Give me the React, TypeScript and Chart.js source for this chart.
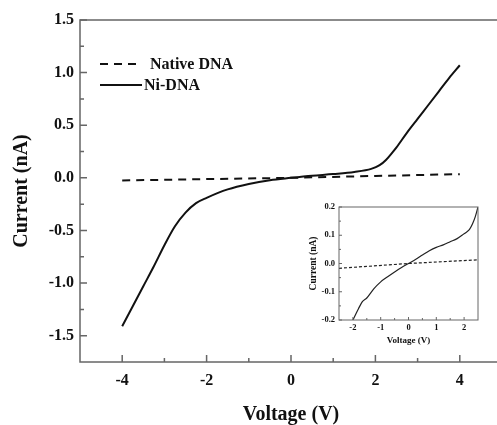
import React, { useEffect, useRef } from "react";
import { Chart, registerables } from "chart.js";

Chart.register(...registerables);

// ---------- data (main chart) ----------
const seriesNames = ["Native DNA", "Ni-DNA"];
const voltageTicks = [-4, -2, 0, 2, 4];
const voltageMinorTicks = [-3, -1, 1, 3];
const currentTicks = [-1.5, -1.0, -0.5, 0.0, 0.5, 1.0, 1.5];
const currentMinorTicks = [-1.25, -0.75, -0.25, 0.25, 0.75, 1.25];

const nativeVoltage = [-4, -2, 0, 2, 4];
const nativeCurrent = [-0.025, -0.012, 0.0, 0.018, 0.035];

const niVoltage = [-4, -3.75, -3.5, -3.25, -3, -2.75, -2.5, -2.25, -2, -1.5, -1, -0.5, 0, 0.5, 1, 1.5, 1.9, 2.1, 2.25, 2.4, 2.5, 2.75, 3, 3.25, 3.5, 3.75, 4];
const niCurrent = [-1.41, -1.22, -1.03, -0.84, -0.64, -0.46, -0.33, -0.24, -0.19, -0.11, -0.058, -0.022, 0.0, 0.02, 0.036, 0.056, 0.085, 0.12, 0.17, 0.24, 0.29, 0.43, 0.56, 0.69, 0.82, 0.95, 1.07];

// ---------- data (inset) ----------
const insetVoltageTicks = [-2, -1, 0, 1, 2];
const insetVoltageMinorTicks = [-1.5, -0.5, 0.5, 1.5];
const insetCurrentTicks = [-0.2, -0.1, 0.0, 0.1, 0.2];
const insetCurrentMinorTicks = [-0.15, -0.05, 0.05, 0.15];

const insetNativeVoltage = [-2.5, 0, 2.5];
const insetNativeCurrent = [-0.017, 0.0, 0.013];

const insetNiVoltage = [-2, -1.8, -1.66, -1.5, -1.25, -1, -0.75, -0.5, -0.25, 0, 0.25, 0.5, 0.75, 1, 1.25, 1.5, 1.75, 2, 2.1, 2.2, 2.3, 2.4, 2.5];
const insetNiCurrent = [-0.2, -0.16, -0.135, -0.122, -0.09, -0.065, -0.047, -0.03, -0.014, 0, 0.014, 0.03, 0.045, 0.057, 0.066, 0.077, 0.088, 0.105, 0.112, 0.122, 0.14, 0.165, 0.2];

const FONT = "'Liberation Serif', 'Times New Roman', serif";
const INK = "#111";
const FRAME = "#666";

const toPoints = (xs: number[], ys: number[]) => xs.map((x, i) => ({ x, y: ys[i] }));

function framePlugin(id: string, opt: any) {
  return {
    id,
    afterDraw(chart: any) {
      const { ctx, chartArea: a } = chart;
      const x = chart.scales.x;
      const y = chart.scales.y;
      ctx.save();
      ctx.strokeStyle = FRAME;
      ctx.lineWidth = opt.width;
      ctx.strokeRect(a.left, a.top, a.right - a.left, a.bottom - a.top);
      ctx.beginPath();
      const xt = (vals: number[], len: number) =>
        vals.forEach((v) => {
          const p = x.getPixelForValue(v);
          ctx.moveTo(p, a.bottom);
          ctx.lineTo(p, a.bottom - len);
        });
      const yt = (vals: number[], len: number) =>
        vals.forEach((v) => {
          const p = y.getPixelForValue(v);
          ctx.moveTo(a.left, p);
          ctx.lineTo(a.left + len, p);
        });
      xt(opt.xMajor, opt.major);
      xt(opt.xMinor, opt.minor);
      yt(opt.yMajor, opt.major);
      yt(opt.yMinor, opt.minor);
      ctx.stroke();
      ctx.restore();
    },
  };
}

const legendPlugin = {
  id: "customLegend",
  afterDraw(chart: any) {
    const { ctx, chartArea: a } = chart;
    ctx.save();
    ctx.strokeStyle = INK;
    ctx.lineWidth = 2;
    ctx.fillStyle = INK;
    ctx.font = `bold 16px ${FONT}`;
    ctx.textBaseline = "middle";
    ctx.setLineDash([8, 6]);
    ctx.beginPath();
    ctx.moveTo(a.left + 20, a.top + 44);
    ctx.lineTo(a.left + 62, a.top + 44);
    ctx.stroke();
    ctx.setLineDash([]);
    ctx.fillText(seriesNames[0], a.left + 70, a.top + 45);
    ctx.beginPath();
    ctx.moveTo(a.left + 20, a.top + 65);
    ctx.lineTo(a.left + 62, a.top + 65);
    ctx.stroke();
    ctx.fillText(seriesNames[1], a.left + 64, a.top + 66);
    ctx.restore();
  },
};

export default function App() {
  const mainRef = useRef<HTMLCanvasElement | null>(null);
  const insetRef = useRef<HTMLCanvasElement | null>(null);

  useEffect(() => {
    const main = new Chart(mainRef.current as HTMLCanvasElement, {
      type: "line",
      data: {
        datasets: [
          {
            label: seriesNames[0],
            data: toPoints(nativeVoltage, nativeCurrent),
            borderColor: INK,
            borderWidth: 2,
            borderDash: [8, 6],
            pointRadius: 0,
            fill: false,
          },
          {
            label: seriesNames[1],
            data: toPoints(niVoltage, niCurrent),
            borderColor: INK,
            borderWidth: 2,
            pointRadius: 0,
            cubicInterpolationMode: "monotone",
            fill: false,
          },
        ],
      },
      options: {
        responsive: false,
        animation: false,
        devicePixelRatio: 1,
        layout: { padding: { left: 0, top: 20, right: 18, bottom: 0 } },
        plugins: { legend: { display: false }, tooltip: { enabled: false } },
        scales: {
          x: {
            type: "linear",
            min: -5,
            max: 5,
            grid: { display: false, drawTicks: false },
            border: { display: false },
            afterBuildTicks: (s: any) => {
              s.ticks = voltageTicks.map((v) => ({ value: v }));
            },
            afterFit: (s: any) => {
              s.height = 63;
            },
            ticks: {
              autoSkip: false,
              maxRotation: 0,
              padding: 9,
              color: INK,
              font: { family: FONT, size: 16, weight: "bold" },
              callback: (v: any) => String(v),
            },
            title: {
              display: true,
              text: "Voltage (V)",
              color: INK,
              font: { family: FONT, size: 20, weight: "bold", lineHeight: 1 },
              padding: { top: 0, bottom: 0 },
            },
          },
          y: {
            type: "linear",
            min: -1.75,
            max: 1.5,
            grid: { display: false, drawTicks: false },
            border: { display: false },
            afterBuildTicks: (s: any) => {
              s.ticks = currentTicks.map((v) => ({ value: v }));
            },
            afterFit: (s: any) => {
              s.width = 80;
            },
            ticks: {
              autoSkip: false,
              padding: 6,
              color: INK,
              font: { family: FONT, size: 16, weight: "bold" },
              callback: (v: any) => Number(v).toFixed(1),
            },
            title: {
              display: true,
              text: "Current (nA)",
              color: INK,
              font: { family: FONT, size: 20, weight: "bold", lineHeight: 1.2 },
              padding: { top: 10, bottom: 0 },
            },
          },
        },
      } as any,
      plugins: [
        framePlugin("mainFrame", {
          width: 1.5,
          major: 7,
          minor: 4,
          xMajor: voltageTicks,
          xMinor: voltageMinorTicks,
          yMajor: currentTicks,
          yMinor: currentMinorTicks,
        }),
        legendPlugin,
      ],
    });

    const inset = new Chart(insetRef.current as HTMLCanvasElement, {
      type: "line",
      data: {
        datasets: [
          {
            label: seriesNames[0],
            data: toPoints(insetNativeVoltage, insetNativeCurrent),
            borderColor: "#222",
            borderWidth: 1.2,
            borderDash: [3, 2],
            pointRadius: 0,
            fill: false,
          },
          {
            label: seriesNames[1],
            data: toPoints(insetNiVoltage, insetNiCurrent),
            borderColor: "#222",
            borderWidth: 1.2,
            pointRadius: 0,
            cubicInterpolationMode: "monotone",
            fill: false,
          },
        ],
      },
      options: {
        responsive: false,
        animation: false,
        devicePixelRatio: 1,
        layout: { padding: { left: 0, top: 12, right: 17, bottom: 0 } },
        plugins: { legend: { display: false }, tooltip: { enabled: false } },
        scales: {
          x: {
            type: "linear",
            min: -2.5,
            max: 2.5,
            grid: { display: false, drawTicks: false },
            border: { display: false },
            afterBuildTicks: (s: any) => {
              s.ticks = insetVoltageTicks.map((v) => ({ value: v }));
            },
            afterFit: (s: any) => {
              s.height = 35;
            },
            ticks: {
              autoSkip: false,
              maxRotation: 0,
              padding: 3,
              color: INK,
              font: { family: FONT, size: 8.5, weight: "bold" },
              callback: (v: any) => String(v),
            },
            title: {
              display: true,
              text: "Voltage (V)",
              color: INK,
              font: { family: FONT, size: 9, weight: "bold", lineHeight: 1.2 },
              padding: { top: 0, bottom: 9 },
            },
          },
          y: {
            type: "linear",
            min: -0.2,
            max: 0.2,
            grid: { display: false, drawTicks: false },
            border: { display: false },
            afterBuildTicks: (s: any) => {
              s.ticks = insetCurrentTicks.map((v) => ({ value: v }));
            },
            afterFit: (s: any) => {
              s.width = 44;
            },
            ticks: {
              autoSkip: false,
              padding: 4,
              color: INK,
              font: { family: FONT, size: 8.5, weight: "bold" },
              callback: (v: any) => Number(v).toFixed(1),
            },
            title: {
              display: true,
              text: "Current (nA)",
              color: INK,
              font: { family: FONT, size: 9.5, weight: "bold", lineHeight: 1.2 },
              padding: { top: 13, bottom: 0 },
            },
          },
        },
      } as any,
      plugins: [
        framePlugin("insetFrame", {
          width: 1,
          major: 3,
          minor: 2,
          xMajor: insetVoltageTicks,
          xMinor: insetVoltageMinorTicks,
          yMajor: insetCurrentTicks,
          yMinor: insetCurrentMinorTicks,
        }),
      ],
    });

    return () => {
      main.destroy();
      inset.destroy();
    };
  }, []);

  return (
    <div
      style={{
        position: "fixed",
        left: 0,
        top: 0,
        width: 497,
        height: 425,
        overflow: "hidden",
        background: "#fff",
      }}
    >
      <canvas
        ref={mainRef}
        width={520}
        height={425}
        style={{ position: "absolute", left: 0, top: 0, display: "block" }}
      />
      <canvas
        ref={insetRef}
        width={200}
        height={160}
        style={{ position: "absolute", left: 295, top: 195, display: "block" }}
      />
    </div>
  );
}
